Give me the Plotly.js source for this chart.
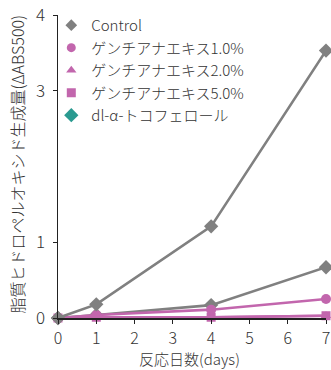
<!DOCTYPE html>
<html><head><meta charset="utf-8">
<script src="https://cdn.plot.ly/plotly-3.0.1.min.js"></script>
<style>html,body{margin:0;padding:0;background:#fff}#c{width:331px;height:370px}</style>
</head><body><div id="c"></div>
<script>
const days = [0, 1, 4, 7];
const control = [0, 0.18, 1.21, 3.53];
const genchiana10 = [0, 0.04, 0.11, 0.25];
const genchiana20 = [0, 0.01, 0.01, 0.03];
const genchiana50 = [0, 0.01, 0.01, 0.03];
const tocopherol = [0, 0.04, 0.17, 0.67];
const names = ["Control", "ゲンチアナエキス1.0%", "ゲンチアナエキス2.0%", "ゲンチアナエキス5.0%", "dl-α-トコフェロール"];
const xTicks = [0, 1, 2, 3, 4, 5, 6, 7];
const yTicks = [0, 1, 3, 4];
const xTitle = "反応日数(days)";
const yTitle = "脂質ヒドロペルオキシド生成量(ΔABS500)";

const gray = "#808080", pink = "#c266ad", teal = "#2a9a90";
const font = "'Noto Sans CJK JP', 'Noto Sans', sans-serif";
function tr(y, name, color, symbol, size) {
  return {x: days, y: y, name: name, type: "scatter", mode: "lines+markers",
    line: {color: color, width: 2.6}, marker: {color: color, symbol: symbol, size: size},
    cliponaxis: false, showlegend: false};
}
function leg(name, color, symbol, size) {
  return {x: [null], y: [null], name: name, type: "scatter", mode: "markers",
    marker: {color: color, symbol: symbol, size: size}, showlegend: true};
}
const data = [
  tr(tocopherol, names[4], gray, "diamond", 11),
  tr(genchiana50, names[3], pink, "square", 9),
  tr(genchiana20, names[2], pink, "triangle-up", 9),
  tr(genchiana10, names[1], pink, "circle", 10),
  tr(control, names[0], gray, "diamond", 11),
  leg(names[0], gray, "diamond", 9),
  leg(names[1], pink, "circle", 9),
  leg(names[2], pink, "triangle-up", 9),
  leg(names[3], pink, "square", 9),
  leg(names[4], teal, "diamond", 11)
];
const layout = {
  width: 331, height: 370,
  margin: {l: 58, r: 5, t: 15, b: 52, autoexpand: false},
  paper_bgcolor: "#fff", plot_bgcolor: "#fff",
  font: {family: font, size: 16, color: "#333", weight: 300},
  showlegend: true,
  legend: {x: -0.025, y: 1.02, xanchor: "left", yanchor: "top", traceorder: "normal",
    bgcolor: "rgba(0,0,0,0)", font: {size: 15, color: "#333"}, itemwidth: 30, tracegroupgap: 0},
  xaxis: {range: [0, 7], tickvals: xTicks, ticktext: xTicks.map(String), showgrid: false, zeroline: false,
    showline: true, linecolor: "#222", linewidth: 1.5, ticks: "outside", ticklen: 4, tickcolor: "#222",
    tickfont: {size: 16}, ticklabelstandoff: 1, automargin: false, fixedrange: true},
  yaxis: {range: [0, 4], tickvals: yTicks, ticktext: yTicks.map(String), showgrid: false, zeroline: false,
    showline: true, linecolor: "#222", linewidth: 1.5, ticks: "outside", ticklen: 4, tickcolor: "#222",
    tickfont: {size: 17}, ticklabelstandoff: 4, automargin: false, fixedrange: true},
  annotations: [
    {text: xTitle, xref: "paper", yref: "paper", x: 0.49, y: -0.1337, xanchor: "center", yanchor: "middle",
     showarrow: false, font: {size: 15, color: "#333"}},
    {text: yTitle, xref: "paper", yref: "paper", x: -0.153, y: 0.51, xanchor: "center", yanchor: "middle",
     textangle: -90, showarrow: false, font: {size: 16, color: "#333"}}
  ]
};
Plotly.newPlot("c", data, layout, {displayModeBar: false, staticPlot: true});
</script></body></html>
